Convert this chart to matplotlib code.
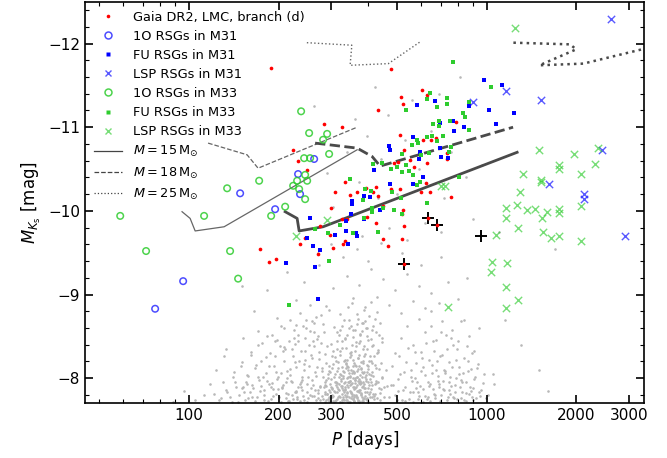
import matplotlib
matplotlib.use('Agg')
import matplotlib.pyplot as plt
from matplotlib.lines import Line2D
from matplotlib.ticker import FixedLocator, NullFormatter, MultipleLocator, FixedFormatter

# ---------------- data (P in days, M_Ks in mag) ----------------
# LMC background (gray)
lmc_p = [282,290,296,301,305,309,312,315,318,321,324,326,329,331,333,335,338,340,342,344,347,349,351,354,356,358,361,363,366,368,371,373,376,379,382,385,388,392,396,400,405,410,416,422,430,438,
         285,293,299,303,307,311,314,317,320,323,327,330,332,336,339,341,343,346,348,350,352,355,357,360,362,364,367,369,372,375,377,380,383,386,390,394,398,403,408,413,419,426,434,445,
         288,297,304,313,319,325,328,334,337,345,353,359,365,370,374,378,384,389,393,397,402,407,412,418,424,432,441,452,460,
         362,368,381,387,395,401,409,415,423,429,437,444,350,340,332,322,314,306,
         128,134,139,143,147,151,154,157,160,163,166,169,172,175,178,181,184,187,190,193,196,199,202,205,208,211,214,217,220,223,226,229,232,235,238,241,244,247,250,253,256,259,262,265,268,271,274,277,280,283,286,290,294,
         140,149,156,162,170,177,183,188,195,203,210,219,227,236,245,254,263,272,281,
         215,222,230,240,248,258,266,275,112,118,105,96,88,123,131,
         470,485,498,510,522,535,547,560,573,586,599,612,626,640,654,668,683,698,713,729,745,761,778,795,812,830,848,867,886,905,925,946,968,990,
         490,515,540,566,593,620,648,676,705,735,766,800,835,870,905,940,
         505,530,555,580,607,634,662,690,720,752,785,820,857,895,
         165,182,198,214,229,244,258,273,289,305,321,338,355,372,390,409,428,448,470,492,515,540,565,592,620,650,690,740,800,860,
         270,300,330,365,400,440,520,600,700,150,
         262,290,305,340,360,372,395,420,440,465,500,530,560,590,620,650,690,720,760,810,850,900,960,700,470,380,430,540,1100,1300,1500,1150,1050,1600,1700]
lmc_mk = [-7.75,-7.81,-7.73,-7.88,-7.79,-7.95,-7.74,-7.84,-8.02,-7.77,-7.91,-7.72,-7.86,-8.08,-7.80,-7.96,-7.74,-8.15,-7.89,-7.78,-8.01,-7.83,-7.93,-7.75,-8.22,-7.87,-7.98,-7.79,-8.09,-7.85,-7.73,-7.94,-8.04,-7.81,-7.90,-8.18,-7.76,-7.99,-7.84,-8.11,-7.78,-7.92,-8.03,-7.81,-7.95,-7.74,
          -7.92,-8.05,-7.99,-8.12,-7.72,-8.20,-7.90,-7.78,-8.28,-7.97,-8.13,-7.75,-7.94,-8.36,-7.82,-8.02,-7.71,-8.25,-7.92,-8.10,-7.79,-8.00,-7.73,-8.32,-7.88,-8.14,-7.76,-7.97,-8.42,-7.86,-8.19,-7.73,-8.06,-7.88,-8.29,-7.75,-7.96,-8.21,-7.87,-8.38,-7.79,-8.12,-7.88,-8.01,
          -8.18,-7.84,-8.32,-8.09,-7.93,-8.45,-8.00,-7.87,-8.17,-7.95,-8.40,-8.06,-7.92,-8.24,-8.53,-7.94,-8.35,-8.02,-8.60,-8.16,-7.92,-8.47,-8.08,-8.26,-7.97,-8.34,-8.18,-7.90,-8.10,
          -8.58,-8.71,-8.66,-8.82,-8.50,-8.74,-8.91,-8.62,-8.55,-8.79,-8.66,-8.48,-8.63,-8.52,-8.70,-8.58,-8.44,-8.61,
          -7.76,-7.84,-7.72,-7.95,-7.80,-7.88,-7.74,-8.04,-7.83,-7.92,-8.12,-7.77,-7.98,-8.21,-7.86,-8.06,-7.73,-8.30,-7.94,-8.14,-7.81,-8.02,-8.38,-7.90,-8.20,-7.76,-8.09,-8.45,-7.97,-8.27,-7.84,-8.13,-8.52,-7.93,-8.33,-7.79,-8.17,-8.60,-8.01,-8.40,-7.88,-8.24,-8.66,-8.07,-8.47,-7.82,-8.31,-8.75,-8.12,-8.55,-7.96,-8.38,-8.82,
          -8.02,-8.15,-7.93,-8.28,-8.40,-8.01,-8.50,-7.90,-8.44,-8.62,-8.35,-8.70,-8.41,-8.78,-8.48,-8.88,-8.55,-8.95,-8.65,
          -7.73,-7.80,-7.75,-7.86,-7.72,-7.79,-7.74,-7.90,-7.80,-7.93,-7.74,-7.85,-7.72,-8.10,-8.26,
          -7.78,-7.92,-7.74,-8.05,-7.86,-8.19,-7.75,-7.97,-8.31,-7.83,-8.09,-7.72,-8.42,-7.91,-8.16,-7.80,-8.03,-8.27,-7.87,-8.52,-7.96,-8.13,-7.76,-8.35,-7.90,-8.06,-7.73,-8.20,-7.85,-7.99,-8.12,-7.79,-7.94,-7.76,
          -8.30,-8.48,-8.62,-8.40,-8.71,-8.55,-8.80,-8.46,-8.68,-8.35,-8.58,-8.44,-8.70,-8.50,-8.32,-8.60,
          -7.85,-7.73,-8.10,-7.88,-8.24,-7.77,-8.33,-7.93,-8.10,-7.81,-8.22,-7.98,-8.39,-7.77,
          -8.80,-9.05,-8.72,-9.27,-8.93,-9.15,-8.68,-9.35,-8.86,-9.08,-8.77,-9.22,-8.96,-9.12,-8.85,-9.30,-8.97,-9.18,-8.88,-9.05,-8.78,-9.25,-8.92,-9.10,-8.84,-9.02,-8.90,-9.15,-8.95,-9.20,
          -9.50,-9.60,-9.45,-9.55,-9.40,-9.62,-9.50,-9.35,-9.45,-9.10,
          -11.25,-10.45,-10.05,-10.70,-11.10,-10.35,-10.90,-11.48,-10.62,-11.15,-10.20,-10.85,-11.32,-10.50,-9.85,-10.95,-11.40,-10.15,-10.70,-11.60,-10.40,-9.90,-10.55,-9.75,-9.80,-9.70,-10.15,-9.65,-9.75,-8.40,-8.10,-8.70,-8.05,-7.85,-9.55]

# more LMC background: dense core, left lobe and right lobe
lmc_core_p = [286,289,291,294,297,300,302,306,308,310,313,316,319,322,325,327,330,332,334,337,339,341,344,346,348,351,353,356,358,360,363,365,368,370,373,375,378,381,384,387,391,395,399,404,409,414,420,427,433,440,
              287,292,295,298,303,304,309,311,314,317,320,323,326,328,331,333,336,338,340,343,345,347,350,352,355,357,359,362,364,367,369,372,374,377,380,383,386,389,393,397,401,406,411,417,423,430,437,444,452,462,
              300,310,318,326,333,339,344,349,354,358,363,367,371,376,380,385,390,395,400,405,410,416,422,428,435,443,320,336,346,356,366,378,388,398,408,420,348,360,372,384,
              301,303,305,307,310,312,315,317,319,322,324,327,329,331,334,336,338,341,343,345,348,350,352,354,357,359,361,364,366,368,371,373,376,378,381,383,386,389,392,396,399,403,407,412,296,293,289,284,279,315,325,335,345,355,365,375,385,395,342,352]
lmc_core_mk = [-7.72,-7.98,-7.81,-8.14,-7.76,-7.90,-8.27,-7.85,-8.05,-7.73,-7.94,-8.19,-7.79,-8.33,-7.88,-7.74,-8.03,-7.83,-8.22,-7.77,-7.92,-8.10,-7.71,-7.97,-8.30,-7.82,-8.06,-7.75,-7.89,-8.16,-7.80,-8.01,-7.73,-8.24,-7.86,-7.95,-8.12,-7.78,-7.91,-8.38,-7.84,-8.07,-7.72,-7.99,-8.20,-7.81,-7.93,-7.76,-8.11,-7.87,
               -7.84,-7.75,-8.09,-7.93,-7.80,-8.17,-7.73,-7.96,-8.35,-7.87,-7.71,-8.04,-7.91,-7.78,-8.21,-7.86,-7.74,-8.00,-7.83,-8.13,-7.95,-7.72,-8.28,-7.81,-7.90,-8.08,-7.77,-7.98,-8.43,-7.85,-7.74,-8.15,-7.93,-7.80,-8.02,-7.73,-8.26,-7.88,-7.97,-7.76,-8.05,-7.84,-8.18,-7.75,-7.94,-8.31,-7.82,-8.00,-7.78,-7.91,
               -8.41,-8.25,-8.52,-8.36,-8.47,-8.22,-8.60,-8.31,-8.49,-8.18,-8.39,-8.65,-8.28,-8.44,-8.57,-8.21,-8.68,-8.35,-8.46,-8.27,-8.58,-8.40,-8.71,-8.30,-8.52,-8.43,-8.05,-8.12,-8.03,-8.09,-8.01,-8.11,-8.07,-8.14,-8.04,-8.16,-7.97,-7.94,-7.99,-7.96,
               -7.77,-7.87,-7.73,-8.01,-7.83,-7.92,-7.75,-8.12,-7.86,-7.72,-7.99,-7.81,-8.09,-7.74,-7.90,-8.18,-7.79,-7.96,-7.72,-8.06,-7.85,-7.76,-7.94,-8.15,-7.80,-7.73,-8.00,-7.89,-7.77,-8.11,-7.84,-7.72,-7.97,-7.82,-8.08,-7.75,-7.93,-7.79,-8.04,-7.74,-7.88,-7.81,-7.95,-7.77,-7.86,-8.00,-7.74,-7.90,-7.79,-8.55,-8.62,-8.48,-8.70,-8.58,-8.77,-8.52,-8.66,-8.60,-8.85,-8.90]
lmc_left_p = [121,126,130,133,137,141,144,146,150,153,155,158,161,164,167,171,174,176,179,182,185,189,192,194,197,200,204,207,209,212,216,218,221,225,228,231,234,237,239,243,246,249,252,255,258,261,264,267,270,273,276,279,133,152,171,190,209,228,247,266,
              152,158,163,168,173,178,181,186,191,196,199,203,206,211,215,219,224,227,232,236,240,244,248,251,256,260,263,268,272,276,281,285,289,294,298,246,237,229,221,213,205,197,262,270,278,286,254,242,233,225]
lmc_left_mk = [-7.81,-7.74,-7.95,-7.86,-7.78,-8.08,-7.90,-7.72,-8.19,-7.83,-7.96,-7.76,-8.31,-7.88,-7.73,-8.02,-7.91,-8.42,-7.80,-7.97,-8.14,-7.75,-7.87,-8.26,-7.99,-7.78,-8.06,-7.92,-8.37,-7.82,-7.73,-8.11,-7.95,-8.48,-7.85,-7.77,-8.21,-7.89,-8.01,-7.74,-8.33,-7.93,-8.15,-7.80,-7.98,-8.44,-7.86,-8.03,-7.76,-8.23,-7.91,-8.09,-8.35,-8.48,-8.56,-8.52,-8.60,-8.64,-8.70,-8.73,
               -7.90,-8.03,-7.78,-8.16,-7.85,-7.74,-8.25,-7.93,-7.79,-8.08,-7.87,-7.72,-8.32,-7.96,-7.81,-8.04,-7.75,-8.19,-7.89,-7.73,-7.98,-8.10,-7.83,-7.76,-8.28,-7.92,-7.79,-8.13,-7.86,-7.74,-8.01,-7.81,-7.91,-7.77,-8.07,-8.22,-7.95,-7.84,-8.35,-8.00,-7.88,-8.46,-8.39,-8.50,-8.42,-8.29,-8.57,-8.63,-8.45,-8.58]
lmc_right_p = [475,480,492,502,508,518,526,533,543,551,557,566,577,583,592,603,609,618,630,637,646,657,664,675,687,694,708,717,726,740,749,758,772,782,790,805,816,826,840,853,862,878,890,900,915,935,955,975,1010,1060,
               565,575,588,597,611,622,633,644,652,661,672,681,692,702,711,722,733,744,755,768,780,793,808,823,838,852,871,884,899,918,940,700,650,760,820]
lmc_right_mk = [-7.92,-8.15,-7.80,-7.99,-8.27,-7.74,-8.08,-7.90,-8.36,-7.83,-8.02,-7.72,-8.18,-7.95,-7.79,-8.31,-7.87,-8.04,-7.75,-8.22,-7.93,-8.45,-7.81,-8.10,-7.97,-7.73,-8.28,-7.86,-8.06,-7.78,-8.19,-7.91,-8.40,-7.84,-8.00,-8.13,-7.76,-7.96,-8.24,-7.82,-8.09,-7.89,-8.30,-7.74,-8.01,-8.17,-7.86,-8.05,-7.80,-7.93,
                -7.84,-8.00,-7.75,-7.91,-8.13,-7.79,-7.95,-7.73,-8.06,-7.87,-7.76,-8.20,-7.90,-7.80,-7.97,-8.09,-7.74,-7.86,-8.02,-7.78,-7.92,-7.75,-8.05,-7.83,-7.74,-7.95,-7.81,-8.11,-7.88,-7.76,-7.83,-8.55,-8.62,-8.48,-8.68]

# Gaia DR2, LMC, branch (d)
gaia_p = [188,477,430,514,521,605,630,284,327,509,612,647,677,787,224,233,525,554,629,734,734,486,505,571,249,
          334,308,347,366,392,426,416,431,477,511,624,602,645,759,521,519,449,397,299,327,339,276,298,246,235,
          304,334,330,270,426,528,447,465,518,528,634,679,173,196,185]
gaia_mk = [-11.71,-11.70,-11.20,-11.36,-11.28,-11.44,-11.38,-11.04,-11.00,-10.91,-10.85,-10.85,-10.87,-11.06,-10.73,-10.60,-10.73,-10.61,-10.57,-10.62,-10.69,-10.57,-10.58,-10.53,-10.49,
           -10.34,-10.22,-10.19,-10.22,-10.27,-10.28,-10.22,-10.18,-10.26,-10.26,-10.33,-10.22,-10.22,-10.16,-10.01,-9.96,-10.06,-9.93,-10.03,-9.90,-9.90,-9.82,-9.71,-9.68,-9.61,
           -9.56,-9.64,-9.60,-9.48,-9.86,-9.82,-9.66,-9.58,-9.66,-9.37,-9.91,-9.83,-9.55,-9.42,-9.39]

# highlighted stars (black plus)
mark_p = [634, 679, 528, 955]
mark_mk = [-9.91, -9.83, -9.37, -9.70]

# M31
m31_1o_p = [76.9, 95.5, 148.4, 194.5, 232.3, 235.9, 263.0]
m31_1o_mk = [-8.83, -9.16, -10.21, -10.02, -10.44, -10.20, -10.62]
m31_fu_p = [979,1126,1235,1016,1072,839,869,582,672,771,697,776,564,469,473,596,697,701,741,592,418,473,564,612,
            387,406,438,352,352,349,387,337,336,366,341,363,309,255,249,260,275,212,264,271]
m31_fu_mk = [-11.56,-11.51,-11.17,-11.21,-11.04,-11.00,-11.25,-11.27,-11.31,-11.08,-11.05,-10.96,-10.88,-10.78,-10.73,-10.70,-10.75,-10.64,-10.63,-10.62,-10.49,-10.32,-10.32,-10.40,
             -10.18,-10.16,-10.01,-10.12,-10.08,-9.96,-9.90,-9.88,-9.76,-9.70,-9.60,-9.73,-9.71,-9.91,-9.67,-9.58,-9.53,-9.38,-9.33,-8.95]
m31_lsp_p = [2615, 1161, 900, 1522, 2434, 1619, 2122, 2122, 2914]
m31_lsp_mk = [-12.29, -11.43, -11.30, -11.33, -10.73, -10.32, -10.20, -10.14, -9.70]

# M33
m33_1o_p = [58.7,71.7,112.3,134.2,137.3,146.1,171.9,188.6,210.2,223.6,230.6,234.2,245.3,243.4,254.9,245.3,249.2,237.8,253.0,290.8,281.9,295.3]
m33_1o_mk = [-9.94,-9.52,-9.94,-10.27,-9.52,-9.19,-10.36,-9.94,-10.05,-10.30,-10.36,-10.26,-10.14,-10.63,-10.63,-10.43,-10.36,-11.19,-10.93,-10.92,-10.85,-10.68]
m33_fu_p = [772,1036,642,630,736,736,679,535,833,846,753,693,693,657,870,869,715,655,629,582,588,560,679,759,602,639,745,
            446,416,499,476,536,519,548,567,597,582,805,346,390,408,385,480,514,629,411,413,449,486,387,322,264,292,355,432,296,217,518,518]
m33_fu_mk = [-11.78,-11.48,-11.41,-11.34,-11.35,-11.28,-11.24,-11.20,-11.17,-11.12,-11.08,-11.07,-11.02,-11.04,-10.97,-11.30,-10.89,-10.89,-10.88,-10.85,-10.81,-10.79,-10.83,-10.76,-10.67,-10.69,-10.70,
             -10.57,-10.56,-10.52,-10.50,-10.55,-10.46,-10.48,-10.43,-10.34,-10.31,-10.41,-10.38,-10.26,-10.24,-10.13,-10.22,-10.15,-10.09,-10.03,-9.99,-10.03,-10.01,-9.92,-9.83,-9.78,-9.74,-9.74,-9.75,-9.40,-8.87,-9.96,-10.68]
m33_lsp_p = [1245,1502,1957,2371,2311,1745,1745,1319,2073,1518,1518,1294,1267,1161,1366,1453,1594,1745,1745,2073,1161,1537,1274,1074,1546,1644,1750,2073,
             1039,1167,1031,1161,1277,1161,743,701,724,290,228]
m33_lsp_mk = [-12.18,-10.73,-10.68,-10.75,-10.56,-10.55,-10.50,-10.44,-10.44,-10.37,-10.34,-10.22,-10.07,-10.04,-10.01,-10.02,-9.99,-10.02,-9.98,-10.06,-9.91,-9.91,-9.80,-9.71,-9.75,-9.68,-9.70,-9.64,
              -9.39,-9.38,-9.27,-9.09,-8.94,-8.84,-8.85,-10.30,-10.30,-9.89,-9.70]

# evolutionary tracks: thin (light) and thick (dark) branches
t15_thin_p = [94.7, 100.8, 104.8, 131.1, 366.7]
t15_thin_mk = [-9.99, -9.91, -9.76, -9.81, -10.73]
t15_thick_p = [210.2, 230.6, 234.2, 281.9, 1264]
t15_thick_mk = [-9.99, -9.91, -9.76, -9.81, -10.70]
t18_thin_p = [115.8, 156.6, 170.5, 366.7]
t18_thin_mk = [-10.81, -10.67, -10.51, -11.00]
t18_thick_p = [265.0, 366.7, 411.8, 438.1, 1225]
t18_thick_mk = [-10.81, -10.75, -10.65, -10.535, -11.00]
t25_thin_p = [248.6, 352.0, 347.4, 467.1, 597.0]
t25_thin_mk = [-12.01, -11.98, -11.74, -11.76, -12.02]
t25_thick_p = [1228, 1905, 1995, 1502, 2110, 3402]
t25_thick_mk = [-12.01, -11.99, -11.93, -11.74, -11.76, -11.94]

xticks_major = [100, 200, 300, 500, 1000, 2000, 3000]

# ---------------- figure ----------------
fig = plt.figure(figsize=(6.67, 4.58), dpi=100)
ax = fig.add_axes([0.1274, 0.1194, 0.8386, 0.8769])
ax.set_xscale('log')

gray = '#b8b8b8'
for gp, gm in [(lmc_p, lmc_mk), (lmc_core_p, lmc_core_mk), (lmc_left_p, lmc_left_mk), (lmc_right_p, lmc_right_mk)]:
    ax.scatter(gp, gm, s=3.5, marker='o', color=gray, linewidths=0, zorder=1)

c_thin = '#666666'
c_thick = '#4a4a4a'
ax.plot(t15_thin_p, t15_thin_mk, '-', color=c_thin, lw=0.9, zorder=2)
ax.plot(t15_thick_p, t15_thick_mk, '-', color=c_thick, lw=2.0, zorder=2)
ax.plot(t18_thin_p, t18_thin_mk, '--', color=c_thin, lw=0.9, zorder=2)
ax.plot(t18_thick_p, t18_thick_mk, '--', color=c_thick, lw=2.0, zorder=2)
ax.plot(t25_thin_p, t25_thin_mk, ':', color=c_thin, lw=1.0, zorder=2)
ax.plot(t25_thick_p, t25_thick_mk, ':', color=c_thick, lw=1.8, zorder=2)

blue = '#0000ff'
green = '#2ecc2e'
ax.scatter(mark_p, mark_mk, s=80, marker='+', color='black', linewidths=1.4, zorder=3)
ax.scatter(gaia_p, gaia_mk, s=7, marker='o', color='red', linewidths=0, zorder=4)
ax.scatter(m31_1o_p, m31_1o_mk, s=22, marker='o', facecolors='none', edgecolors=blue, alpha=0.7, linewidths=1.1, zorder=4)
ax.scatter(m31_fu_p, m31_fu_mk, s=12, marker='s', color=blue, linewidths=0, zorder=4)
ax.scatter(m31_lsp_p, m31_lsp_mk, s=28, marker='x', color=blue, alpha=0.65, linewidths=1.0, zorder=4)
ax.scatter(m33_1o_p, m33_1o_mk, s=22, marker='o', facecolors='none', edgecolors=green, alpha=0.85, linewidths=1.1, zorder=4)
ax.scatter(m33_fu_p, m33_fu_mk, s=12, marker='s', color=green, linewidths=0, zorder=4)
ax.scatter(m33_lsp_p, m33_lsp_mk, s=28, marker='x', color=green, alpha=0.65, linewidths=1.0, zorder=4)

ax.set_xlim(44.7, 3380)
ax.set_ylim(-7.7, -12.5)

ax.xaxis.set_major_locator(FixedLocator(xticks_major))
ax.xaxis.set_major_formatter(FixedFormatter([str(v) for v in xticks_major]))
ax.xaxis.set_minor_formatter(NullFormatter())
ax.yaxis.set_major_locator(MultipleLocator(1))
ax.yaxis.set_minor_locator(MultipleLocator(0.2))
ax.tick_params(which='both', direction='in', top=True, right=True, labelsize=11)
ax.tick_params(which='major', length=6, width=1.2)
ax.tick_params(which='minor', length=3, width=0.8)
for sp in ax.spines.values():
    sp.set_linewidth(1.2)

ax.set_xlabel('$P$ [days]', fontsize=12)
ax.set_ylabel('$M_{K_\\mathrm{s}}$ [mag]', fontsize=12)

handles = [
    Line2D([], [], ls='none', marker='o', ms=2.6, color='red', mec='none'),
    Line2D([], [], ls='none', marker='o', ms=5, mfc='none', mec=blue, mew=1.1, alpha=0.7),
    Line2D([], [], ls='none', marker='s', ms=3.4, color=blue, mec='none'),
    Line2D([], [], ls='none', marker='x', ms=5, color=blue, mew=1.0, alpha=0.65),
    Line2D([], [], ls='none', marker='o', ms=5, mfc='none', mec=green, mew=1.1, alpha=0.85),
    Line2D([], [], ls='none', marker='s', ms=3.4, color=green, mec='none'),
    Line2D([], [], ls='none', marker='x', ms=5, color=green, mew=1.0, alpha=0.65),
    Line2D([], [], ls='-', color='#444444', lw=0.9),
    Line2D([], [], ls='--', color='#444444', lw=0.9),
    Line2D([], [], ls=':', color='#444444', lw=0.9),
]
labels = ['Gaia DR2, LMC, branch (d)', '1O RSGs in M31', 'FU RSGs in M31', 'LSP RSGs in M31',
          '1O RSGs in M33', 'FU RSGs in M33', 'LSP RSGs in M33',
          r'$M = 15\,\mathrm{M}_{\odot}$', r'$M = 18\,\mathrm{M}_{\odot}$', r'$M = 25\,\mathrm{M}_{\odot}$']
ax.legend(handles, labels, loc='upper left', frameon=False, fontsize=9.3,
          labelspacing=0.47, handlelength=2.2, handletextpad=0.8, borderaxespad=0.3,
          bbox_to_anchor=(0.0, 1.0))

fig.savefig('out.png', dpi=100)
